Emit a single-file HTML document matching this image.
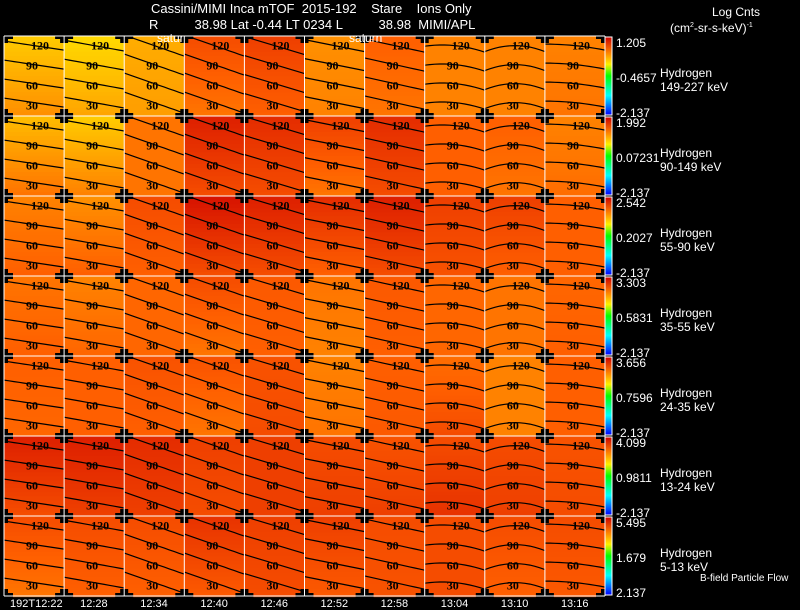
<!DOCTYPE html>
<html><head><meta charset="utf-8"><style>
body{margin:0;background:#000;width:800px;height:609px;overflow:hidden;position:relative;font-family:"Liberation Sans",sans-serif;color:#fff}
.t{position:absolute;white-space:pre;font-size:12px;line-height:12px}
canvas,svg{position:absolute;left:0;top:0}
</style></head><body>
<canvas id="cv" width="800" height="609"></canvas>
<svg id="sv" width="800" height="609"></svg>
<div class="t" style="left:151px;top:3px;font-size:13px">Cassini/MIMI Inca mTOF  2015-192    Stare    Ions Only</div>
<div class="t" style="left:149px;top:19px;font-size:13px">R          38.98 Lat -0.44 LT 0234 L          38.98  MIMI/APL</div>
<div class="t" style="left:157px;top:32px">satur</div>
<div class="t" style="left:349px;top:32px">saturn</div>
<div class="t" style="left:712px;top:6px">Log Cnts</div>
<div class="t" style="left:670px;top:20px">(cm<sup style="font-size:7px">2</sup>-sr-s-keV)<sup style="font-size:7px">-1</sup></div>
<div class="t" style="left:700px;top:573px;font-size:10px">B-field Particle Flow</div>
<div id="extra"></div>
<script>
const times=["192T12:22","12:28","12:34","12:40","12:46","12:52","12:58","13:04","13:10","13:16"];
const species=["149-227 keV","90-149 keV","55-90 keV","35-55 keV","24-35 keV","13-24 keV","5-13 keV"];
const cbMax=["1.205","1.992","2.542","3.303","3.656","4.099","5.495"];
const cbMid=["-0.4657","0.07231","0.2027","0.5831","0.7596","0.9811","1.679"];
const cbMin=["-2.137","-2.137","-2.137","-2.137","-2.137","-2.137","2.137"];
const contourLevels=["120","90","60","30"];
const topVals=[
[0.70,0.68,0.74,0.88,0.90,0.78,0.85,0.80,0.80,0.80],
[0.72,0.70,0.82,0.95,0.93,0.90,0.93,0.85,0.85,0.80],
[0.80,0.78,0.88,0.97,0.95,0.93,0.95,0.90,0.90,0.85],
[0.82,0.80,0.84,0.88,0.86,0.82,0.86,0.84,0.82,0.84],
[0.85,0.85,0.87,0.87,0.87,0.80,0.85,0.83,0.80,0.85],
[0.95,0.95,0.93,0.90,0.90,0.88,0.87,0.88,0.88,0.87],
[0.88,0.88,0.88,0.92,0.90,0.90,0.88,0.88,0.88,0.88]];
const botVals=[
[0.78,0.75,0.76,0.82,0.85,0.80,0.82,0.80,0.80,0.82],
[0.82,0.80,0.82,0.88,0.88,0.82,0.88,0.85,0.82,0.83],
[0.85,0.85,0.85,0.88,0.88,0.85,0.88,0.87,0.85,0.85],
[0.85,0.84,0.84,0.82,0.85,0.80,0.85,0.84,0.82,0.85],
[0.84,0.85,0.85,0.82,0.88,0.82,0.86,0.88,0.80,0.85],
[0.88,0.90,0.90,0.88,0.90,0.90,0.90,0.92,0.90,0.88],
[0.82,0.85,0.85,0.86,0.88,0.86,0.87,0.88,0.85,0.86]];
const slope=[0.15,0.18,0.35,0.35,0.3,0.2,0.22,0.1,0.0,0.1];
const arch=[0,0,0,0,0,0,0,0.12,0.2,0.05];

const X0=4,Y0=36,PW=60.1,PH=80;
function xs(c){return X0+c*PW}
function ys(r){return Y0+r*PH}
function cmap(t){
  const st=[[0,0,0,255],[0.25,0,255,255],[0.5,0,255,0],[0.65,255,240,0],[0.75,255,165,0],[0.85,255,95,0],[1,205,0,0]];
  t=Math.max(0,Math.min(1,t));
  for(let i=1;i<st.length;i++){if(t<=st[i][0]){const a=st[i-1],b=st[i],f=(t-a[0])/(b[0]-a[0]);
    return `rgb(${Math.round(a[1]+f*(b[1]-a[1]))},${Math.round(a[2]+f*(b[2]-a[2]))},${Math.round(a[3]+f*(b[3]-a[3]))})`;}}
  return "rgb(205,0,0)";
}
const ctx=document.getElementById('cv').getContext('2d');
const sv=document.getElementById('sv');
const NS="http://www.w3.org/2000/svg";
function mk(tag,at,name){const e=document.createElementNS(NS,tag);for(const k in at)e.setAttribute(k,at[k]);
 
 
 sv.appendChild(e);return e;}
for(let r=0;r<7;r++)for(let c=0;c<10;c++){
  const x=xs(c),y=ys(r),n=20;
  for(let k=0;k<n;k++){const f=k/(n-1);ctx.fillStyle=cmap(topVals[r][c]+(botVals[r][c]-topVals[r][c])*f);
    ctx.fillRect(Math.round(x),Math.round(y+k*PH/n),Math.ceil(PW)+1,Math.ceil(PH/n)+1);}
  for(let i=0;i<4;i++){
    const y0=y+PH*(0.12+0.25*i);let d="";
    for(let s=0;s<=12;s++){const u=s/12;const yy=y0+slope[c]*PW*(u-0.5)+arch[c]*PW*Math.pow(u-0.5,2)*2-i*1;
      d+=(s?"L":"M")+(x+u*PW).toFixed(1)+","+yy.toFixed(1);}
    mk('path',{d:d,stroke:'#000','stroke-width':1.2,fill:'none'},'contour-line');
    const lt=mk('text',{x:x+PW*0.5+(i==0?8:0)-2,y:y0+4,'font-size':12,'font-family':'Liberation Serif, serif','font-weight':'bold',fill:'#000','text-anchor':'middle'},'contour-label');
    lt.textContent=contourLevels[i];
  }
}
for(let r=0;r<=7;r++)for(let c=0;c<=10;c++){
  const x=xs(c),y=ys(r);
  mk('rect',{x:x-9,y:y-3,width:18,height:6,fill:'#000'},'corner-mark');
  mk('rect',{x:x-4,y:y-7,width:8,height:14,fill:'#000'},'corner-mark');
}
for(let c=0;c<=10;c++)mk('line',{x1:xs(c),x2:xs(c),y1:Y0,y2:ys(7),stroke:'#fff','stroke-width':1},'grid-line-v');
for(let r=0;r<=7;r++)mk('line',{x1:X0,x2:xs(10),y1:ys(r),y2:ys(r),stroke:'#fff','stroke-width':1},'grid-line-h');
const defs=mk('defs',{},'defs');
const g=document.createElementNS(NS,'linearGradient');g.setAttribute('id','cb');g.setAttribute('x1',0);g.setAttribute('y1',1);g.setAttribute('x2',0);g.setAttribute('y2',0);
[[0,'#0000ff'],[0.25,'#00ffff'],[0.5,'#00ff00'],[0.65,'#fff000'],[0.8,'#ff8000'],[1,'#cd0000']].forEach(s=>{const st=document.createElementNS(NS,'stop');st.setAttribute('offset',s[0]);st.setAttribute('stop-color',s[1]);g.appendChild(st);});
defs.appendChild(g);
const ex=document.getElementById('extra');
function txt(x,y,s,name,fs){const d=document.createElement('div');d.className='t';d.style.left=x+'px';d.style.top=y+'px';if(fs)d.style.fontSize=fs+'px';d.textContent=s;
 
 
 ex.appendChild(d);}
for(let r=0;r<7;r++){
  const y=ys(r);
  mk('rect',{x:605,y:y+1,width:7,height:PH-2,fill:'url(#cb)',stroke:'#fff','stroke-width':1},'colorbar');
  txt(616,y+1,cbMax[r],'colorbar-max');
  txt(616,y+36,cbMid[r],'colorbar-mid');
  txt(616,y+71,cbMin[r],'colorbar-min');
  txt(660,y+31,'Hydrogen','species-label');
  txt(660,y+45,species[r],'energy-label');
}
for(let c=0;c<10;c++){
  const d=document.createElement('div');d.className='t';d.textContent=times[c];
  
  
  if(c==0){d.style.left='10px';}else{d.style.left=(xs(c)+PW/2-14)+'px';}
  d.style.top='598px';d.style.fontSize='11px';ex.appendChild(d);
}
</script>
</body></html>
